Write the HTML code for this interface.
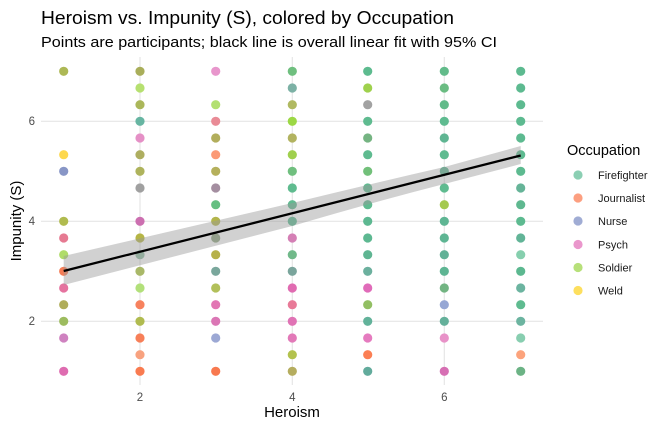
<!DOCTYPE html>
<html><head><meta charset="utf-8"><style>
body{margin:0;background:#fff;}
svg text{font-family:"Liberation Sans",Arial,sans-serif;}
</style></head><body>
<svg width="672" height="432" viewBox="0 0 672 432" xmlns="http://www.w3.org/2000/svg">
<rect width="672" height="432" fill="#fff"/>
<text x="41" y="24" font-size="18.5" fill="#000" textLength="413" lengthAdjust="spacingAndGlyphs">Heroism vs. Impunity (S), colored by Occupation</text>
<text x="41" y="47" font-size="14.5" fill="#000" textLength="456" lengthAdjust="spacingAndGlyphs">Points are participants; black line is overall linear fit with 95% CI</text>
<g stroke="#e6e6e6" stroke-width="1.2">
<line x1="140" y1="57" x2="140" y2="385"/><line x1="292.3" y1="57" x2="292.3" y2="385"/><line x1="444.3" y1="57" x2="444.3" y2="385"/>
<line x1="41" y1="121.3" x2="543" y2="121.3"/><line x1="41" y1="221.3" x2="543" y2="221.3"/><line x1="41" y1="321.3" x2="543" y2="321.3"/>
</g>
<g font-size="11.5" fill="#4d4d4d" text-anchor="middle">
<text x="140" y="401">2</text><text x="292.3" y="401">4</text><text x="444.3" y="401">6</text>
</g>
<g font-size="11.5" fill="#4d4d4d" text-anchor="end">
<text x="35" y="125">6</text><text x="35" y="225">4</text><text x="35" y="325">2</text>
</g>
<text x="292" y="417" font-size="15" text-anchor="middle" fill="#000">Heroism</text>
<text transform="translate(21,221) rotate(-90)" font-size="15" text-anchor="middle" fill="#000">Impunity (S)</text>
<g>
<circle cx="63.7" cy="71.3" r="4.6" fill="#adb855"/>
<circle cx="63.7" cy="154.7" r="4.6" fill="#fdd84f"/>
<circle cx="63.7" cy="171.3" r="4.6" fill="#8896c6"/>
<circle cx="63.7" cy="221.3" r="4.6" fill="#b0bb4f"/>
<circle cx="63.7" cy="238" r="4.6" fill="#e67a92"/>
<circle cx="63.7" cy="254.7" r="4.6" fill="#b0dc6a"/>
<circle cx="63.7" cy="271.3" r="4.6" fill="#f57c55"/>
<circle cx="63.7" cy="288" r="4.6" fill="#e5739f"/>
<circle cx="63.7" cy="304.7" r="4.6" fill="#b0ad5a"/>
<circle cx="63.7" cy="321.3" r="4.6" fill="#9dbc5f"/>
<circle cx="63.7" cy="338" r="4.6" fill="#cf82c0"/>
<circle cx="63.7" cy="371.3" r="4.6" fill="#de6cb0"/>
<circle cx="140" cy="71.3" r="4.6" fill="#a9ae5a"/>
<circle cx="140" cy="88" r="4.6" fill="#b6e070"/>
<circle cx="140" cy="104.7" r="4.6" fill="#abb75a"/>
<circle cx="140" cy="121.3" r="4.6" fill="#67b5a2"/>
<circle cx="140" cy="138" r="4.6" fill="#e590c6"/>
<circle cx="140" cy="154.7" r="4.6" fill="#aeae60"/>
<circle cx="140" cy="171.3" r="4.6" fill="#aeb35c"/>
<circle cx="140" cy="188" r="4.6" fill="#a0a0a0"/>
<circle cx="140" cy="221.3" r="4.6" fill="#cc6fb0"/>
<circle cx="140" cy="238" r="4.6" fill="#b5b545"/>
<circle cx="140" cy="254.7" r="4.6" fill="#8fbca0"/>
<circle cx="140" cy="271.3" r="4.6" fill="#a9b868"/>
<circle cx="140" cy="288" r="4.6" fill="#b2e07a"/>
<circle cx="140" cy="304.7" r="4.6" fill="#f7825e"/>
<circle cx="140" cy="321.3" r="4.6" fill="#b0bb50"/>
<circle cx="140" cy="338" r="4.6" fill="#f77f58"/>
<circle cx="140" cy="354.7" r="4.6" fill="#f8a27f"/>
<circle cx="140" cy="371.3" r="4.6" fill="#f97b50"/>
<circle cx="215.7" cy="71.3" r="4.6" fill="#e896cc"/>
<circle cx="215.7" cy="104.7" r="4.6" fill="#b3e071"/>
<circle cx="215.7" cy="121.3" r="4.6" fill="#e98b96"/>
<circle cx="215.7" cy="138" r="4.6" fill="#b2ae5c"/>
<circle cx="215.7" cy="154.7" r="4.6" fill="#fb9a76"/>
<circle cx="215.7" cy="171.3" r="4.6" fill="#b5b05c"/>
<circle cx="215.7" cy="188" r="4.6" fill="#a48ea0"/>
<circle cx="215.7" cy="204.7" r="4.6" fill="#66bf82"/>
<circle cx="215.7" cy="221.3" r="4.6" fill="#b3b54b"/>
<circle cx="215.7" cy="238" r="4.6" fill="#8fa580"/>
<circle cx="215.7" cy="254.7" r="4.6" fill="#b6b14a"/>
<circle cx="215.7" cy="271.3" r="4.6" fill="#7aa79c"/>
<circle cx="215.7" cy="288" r="4.6" fill="#b2c05a"/>
<circle cx="215.7" cy="304.7" r="4.6" fill="#e277b4"/>
<circle cx="215.7" cy="321.3" r="4.6" fill="#db76b5"/>
<circle cx="215.7" cy="338" r="4.6" fill="#9ca8d4"/>
<circle cx="215.7" cy="371.3" r="4.6" fill="#f8794f"/>
<circle cx="292.3" cy="71.3" r="4.6" fill="#6fbf7f"/>
<circle cx="292.3" cy="88" r="4.6" fill="#7cb1a5"/>
<circle cx="292.3" cy="104.7" r="4.6" fill="#b0b961"/>
<circle cx="292.3" cy="121.3" r="4.6" fill="#9cd845"/>
<circle cx="292.3" cy="138" r="4.6" fill="#b2b360"/>
<circle cx="292.3" cy="154.7" r="4.6" fill="#a0d04e"/>
<circle cx="292.3" cy="171.3" r="4.6" fill="#70bf7f"/>
<circle cx="292.3" cy="188" r="4.6" fill="#5fbb8f"/>
<circle cx="292.3" cy="204.7" r="4.6" fill="#5fbb90"/>
<circle cx="292.3" cy="221.3" r="4.6" fill="#5ebb92"/>
<circle cx="292.3" cy="238" r="4.6" fill="#d47fb5"/>
<circle cx="292.3" cy="254.7" r="4.6" fill="#71b98a"/>
<circle cx="292.3" cy="271.3" r="4.6" fill="#7aa59c"/>
<circle cx="292.3" cy="288" r="4.6" fill="#e06bb1"/>
<circle cx="292.3" cy="304.7" r="4.6" fill="#e87a98"/>
<circle cx="292.3" cy="321.3" r="4.6" fill="#e073b5"/>
<circle cx="292.3" cy="338" r="4.6" fill="#e279b8"/>
<circle cx="292.3" cy="354.7" r="4.6" fill="#b3c24e"/>
<circle cx="292.3" cy="371.3" r="4.6" fill="#b5ad5f"/>
<circle cx="367.7" cy="71.3" r="4.6" fill="#5dbb8f"/>
<circle cx="367.7" cy="88" r="4.6" fill="#9fd14d"/>
<circle cx="367.7" cy="104.7" r="4.6" fill="#a2a2a2"/>
<circle cx="367.7" cy="121.3" r="4.6" fill="#5fbb90"/>
<circle cx="367.7" cy="138" r="4.6" fill="#75b482"/>
<circle cx="367.7" cy="154.7" r="4.6" fill="#5fbb90"/>
<circle cx="367.7" cy="171.3" r="4.6" fill="#72c07a"/>
<circle cx="367.7" cy="188" r="4.6" fill="#5fbb90"/>
<circle cx="367.7" cy="204.7" r="4.6" fill="#5fbb90"/>
<circle cx="367.7" cy="221.3" r="4.6" fill="#5db891"/>
<circle cx="367.7" cy="238" r="4.6" fill="#5db891"/>
<circle cx="367.7" cy="254.7" r="4.6" fill="#5fb592"/>
<circle cx="367.7" cy="271.3" r="4.6" fill="#6cb09e"/>
<circle cx="367.7" cy="288" r="4.6" fill="#e06bb9"/>
<circle cx="367.7" cy="304.7" r="4.6" fill="#92bf63"/>
<circle cx="367.7" cy="321.3" r="4.6" fill="#62b29a"/>
<circle cx="367.7" cy="338" r="4.6" fill="#e57bbf"/>
<circle cx="367.7" cy="354.7" r="4.6" fill="#fb7f54"/>
<circle cx="367.7" cy="371.3" r="4.6" fill="#62ab9c"/>
<circle cx="444.3" cy="71.3" r="4.6" fill="#62bb8a"/>
<circle cx="444.3" cy="88" r="4.6" fill="#6abc82"/>
<circle cx="444.3" cy="104.7" r="4.6" fill="#62bb8a"/>
<circle cx="444.3" cy="121.3" r="4.6" fill="#5fbb90"/>
<circle cx="444.3" cy="138" r="4.6" fill="#5fb592"/>
<circle cx="444.3" cy="154.7" r="4.6" fill="#5fbb90"/>
<circle cx="444.3" cy="171.3" r="4.6" fill="#5fb592"/>
<circle cx="444.3" cy="188" r="4.6" fill="#5fbb90"/>
<circle cx="444.3" cy="204.7" r="4.6" fill="#a4c950"/>
<circle cx="444.3" cy="221.3" r="4.6" fill="#5eb593"/>
<circle cx="444.3" cy="238" r="4.6" fill="#5eb593"/>
<circle cx="444.3" cy="254.7" r="4.6" fill="#62b197"/>
<circle cx="444.3" cy="271.3" r="4.6" fill="#5eb593"/>
<circle cx="444.3" cy="288" r="4.6" fill="#72b482"/>
<circle cx="444.3" cy="304.7" r="4.6" fill="#96a7d4"/>
<circle cx="444.3" cy="321.3" r="4.6" fill="#64b09a"/>
<circle cx="444.3" cy="338" r="4.6" fill="#e892c8"/>
<circle cx="444.3" cy="371.3" r="4.6" fill="#d66fb3"/>
<circle cx="520.7" cy="71.3" r="4.6" fill="#5dba90"/>
<circle cx="520.7" cy="88" r="4.6" fill="#5dba90"/>
<circle cx="520.7" cy="104.7" r="4.6" fill="#5dba90"/>
<circle cx="520.7" cy="121.3" r="4.6" fill="#5dba90"/>
<circle cx="520.7" cy="138" r="4.6" fill="#5dba90"/>
<circle cx="520.7" cy="154.7" r="4.6" fill="#5dba90"/>
<circle cx="520.7" cy="171.3" r="4.6" fill="#5dba90"/>
<circle cx="520.7" cy="188" r="4.6" fill="#66b498"/>
<circle cx="520.7" cy="204.7" r="4.6" fill="#5fb890"/>
<circle cx="520.7" cy="221.3" r="4.6" fill="#5dba90"/>
<circle cx="520.7" cy="238" r="4.6" fill="#62b497"/>
<circle cx="520.7" cy="254.7" r="4.6" fill="#86cfae"/>
<circle cx="520.7" cy="271.3" r="4.6" fill="#5cb890"/>
<circle cx="520.7" cy="288" r="4.6" fill="#6cb4a0"/>
<circle cx="520.7" cy="304.7" r="4.6" fill="#5fbb90"/>
<circle cx="520.7" cy="321.3" r="4.6" fill="#6cb4a0"/>
<circle cx="520.7" cy="338" r="4.6" fill="#88ceb0"/>
<circle cx="520.7" cy="354.7" r="4.6" fill="#fca37c"/>
<circle cx="520.7" cy="371.3" r="4.6" fill="#6cb385"/>
</g>
<path d="M63.7,256 L292.3,203 Q370,184 444.3,167 L520.7,146 L520.7,164 L444.3,184 Q370,203 292.3,226 L63.7,285 Z" fill="#999" fill-opacity="0.45"/>
<line x1="63.7" y1="271" x2="520.7" y2="155.5" stroke="#000" stroke-width="2.3"/>
<text x="567" y="155" font-size="14.5" fill="#000">Occupation</text>
<g font-size="11" fill="#1a1a1a">
<circle cx="578" cy="175" r="4.6" fill="#8bcfb3"/><text x="598" y="179">Firefighter</text>
<circle cx="578" cy="198" r="4.6" fill="#fc9f80"/><text x="598" y="202">Journalist</text>
<circle cx="578" cy="221" r="4.6" fill="#a0acd4"/><text x="598" y="225">Nurse</text>
<circle cx="578" cy="244.5" r="4.6" fill="#ea97cc"/><text x="598" y="248.5">Psych</text>
<circle cx="578" cy="267.5" r="4.6" fill="#b7e07a"/><text x="598" y="271.5">Soldier</text>
<circle cx="578" cy="290.5" r="4.6" fill="#fddf5e"/><text x="598" y="294.5">Weld</text>
</g>
</svg>
</body></html>
